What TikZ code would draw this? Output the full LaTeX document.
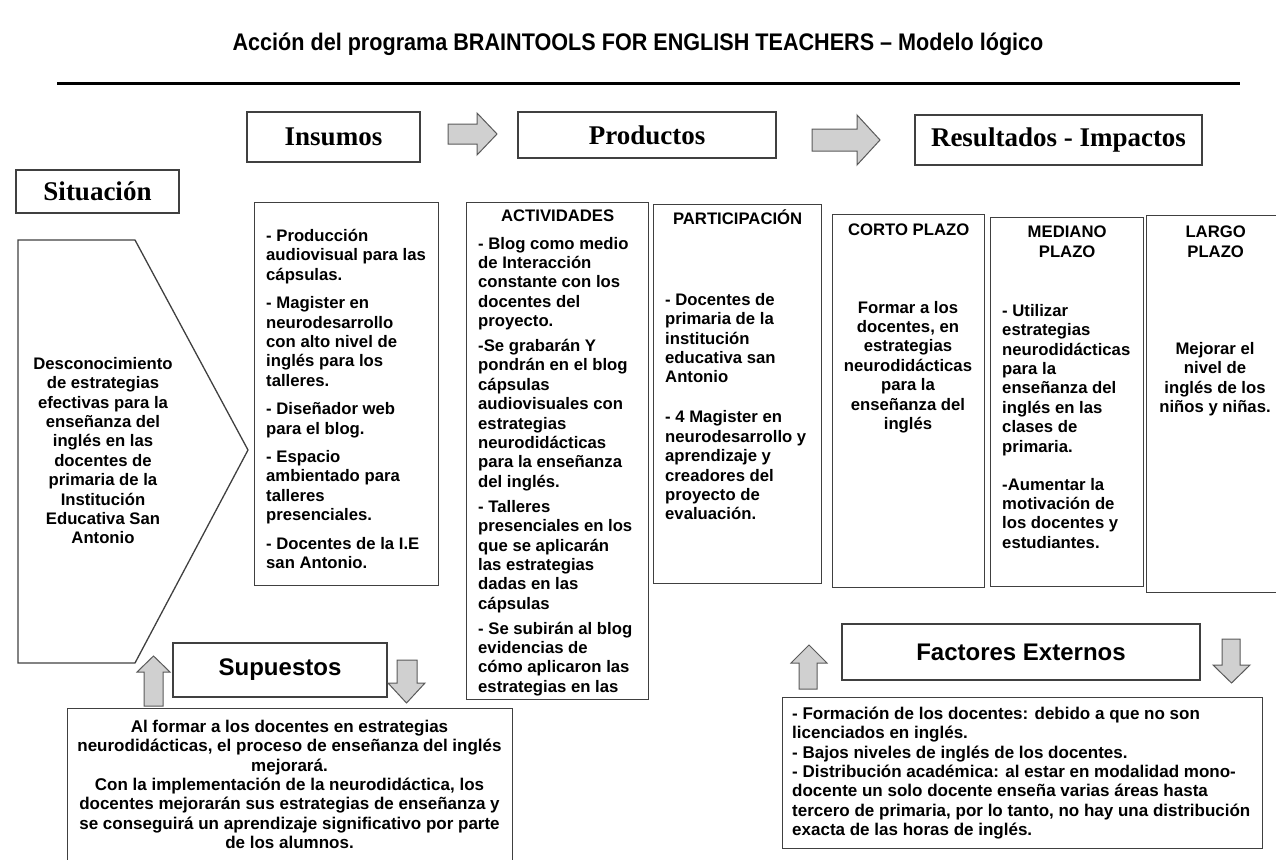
\documentclass[tikz,border=0pt]{standalone}
\usepackage{fontspec}
\setmainfont{Liberation Sans}
\newfontfamily\headserif{Liberation Serif}
\newfontfamily\titlefont[FakeStretch=0.9]{Liberation Sans}
\usetikzlibrary{positioning}
\definecolor{boxline}{RGB}{64,64,64}
\definecolor{arrowline}{RGB}{90,90,90}
\definecolor{arrowfill}{RGB}{208,208,208}

\begin{document}
\begin{tikzpicture}[x=1pt,y=-1pt,
    titlebox/.style={rectangle,draw=boxline,line width=1.3pt,inner sep=0pt,
      font=\headserif\fontsize{27}{30}\selectfont\bfseries},
    colbox/.style={rectangle,draw=boxline,line width=1.3pt,inner sep=0pt,anchor=north west},
    coltext/.style={inner sep=0pt,align=left,anchor=north west,
      font=\fontsize{16.7}{19.4}\selectfont\bfseries},
    colhead/.style={inner sep=0pt,align=center,
      font=\fontsize{16.7}{19.4}\selectfont\bfseries},
    sidehead/.style={rectangle,draw=boxline,line width=1.3pt,inner sep=0pt,
      font=\fontsize{24}{28}\selectfont\bfseries},
    notetext/.style={inner sep=0pt,font=\fontsize{17}{19.3}\selectfont\bfseries},
    blockarrow/.style={draw=arrowline,fill=arrowfill,line width=1pt,line join=miter}
  ]
    \useasboundingbox (0,0) rectangle (1276,859);

    % title and rule
    \node[font=\titlefont\fontsize{24}{28}\selectfont\bfseries] (title) at (638,44)
      {Acción del programa BRAINTOOLS FOR ENGLISH TEACHERS – Modelo lógico};
    \draw[line width=3pt] (57,83) -- (1240,83);

    % top headers
    \node[titlebox,minimum width=173,minimum height=50] (insumos) at (333.5,137) {Insumos};
    \node[titlebox,minimum width=258,minimum height=46] (productos) at (647,135) {Productos};
    \node[titlebox,minimum width=287,minimum height=50] (resultados) at (1058.5,140) {Resultados - Impactos};
    \node[titlebox,minimum width=163,minimum height=43] (situacion) at (97.5,191.5) {Situación};
    \draw[blockarrow] (448,124) -- (477,124) -- (477,113) -- (497,134) -- (477,155) -- (477,144) -- (448,144) -- cycle;
    \draw[blockarrow] (812,129) -- (857,129) -- (857,115) -- (880,140) -- (857,165) -- (857,151) -- (812,151) -- cycle;

    % situation
    \draw[boxline,line width=1.3pt] (18,240) -- (135,240) -- (248,450) -- (135,663) -- (18,663) -- cycle;
    \node[colhead,anchor=north] (situaciontext) at (103,357)
      {Desconocimiento\\de estrategias\\efectivas para la\\enseñanza del\\inglés en las\\docentes de\\primaria de la\\Institución\\Educativa San\\Antonio};

    % insumos
    \node[colbox,minimum width=184,minimum height=383] (insumosbox) at (254,202) {};
    \node[coltext] (insumostext) at (266,229)
      {- Producción\\audiovisual para las\\cápsulas.\\[9pt]
       - Magister en\\neurodesarrollo\\con alto nivel de\\inglés para los\\talleres.\\[9pt]
       - Diseñador web\\para el blog.\\[9pt]
       - Espacio\\ambientado para\\talleres\\presenciales.\\[9pt]
       - Docentes de la I.E\\san Antonio.};

    % actividades
    \begin{scope}
      \clip (466,202) rectangle (648,699);
      \node[coltext] (actividadestext) at (478,236.7)
        {- Blog como medio\\de Interacción\\constante con los\\docentes del\\proyecto.\\[5.5pt]
         -Se grabarán Y\\pondrán en el blog\\cápsulas\\audiovisuales con\\estrategias\\neurodidácticas\\para la enseñanza\\del inglés.\\[5.5pt]
         - Talleres\\presenciales en los\\que se aplicarán\\las estrategias\\dadas en las\\cápsulas\\[5.5pt]
         - Se subirán al blog\\evidencias de\\cómo aplicaron las\\estrategias en las};
    \end{scope}
    \node[colbox,minimum width=182,minimum height=497] (actividadesbox) at (466,202) {};
    \node[colhead,below=8pt of actividadesbox.north] (actividades) {ACTIVIDADES};

    % participacion
    \node[colbox,minimum width=168,minimum height=379] (participacionbox) at (653,204) {};
    \node[colhead,below=5.5pt of participacionbox.north] (participacion) {PARTICIPACIÓN};
    \node[coltext] (participaciontext) at (665,293)
      {- Docentes de\\primaria de la\\institución\\educativa san\\Antonio\\[20.6pt]
       - 4 Magister en\\neurodesarrollo y\\aprendizaje y\\creadores del\\proyecto de\\evaluación.};

    % plazos
    \node[colbox,minimum width=152,minimum height=373] (cortobox) at (832,214) {};
    \node[colhead,below=10pt of cortobox.north] (corto) {CORTO PLAZO};
    \node[colhead,anchor=north] (cortotext) at (908,300.7)
      {Formar a los\\docentes, en\\estrategias\\neurodidácticas\\para la\\enseñanza del\\inglés};

    \node[colbox,minimum width=153,minimum height=369] (medianobox) at (990,217) {};
    \node[colhead,below=9pt of medianobox.north] (mediano) {MEDIANO\\PLAZO};
    \node[coltext] (medianotext) at (1002,304)
      {- Utilizar\\estrategias\\neurodidácticas\\para la\\enseñanza del\\inglés en las\\clases de\\primaria.\\[18.6pt]
       -Aumentar la\\motivación de\\los docentes y\\estudiantes.};

    \node[colbox,minimum width=138,minimum height=377] (largobox) at (1146,215) {};
    \node[colhead,below=11pt of largobox.north] (largo) {LARGO\\PLAZO};
    \node[colhead,anchor=north] (largotext) at (1215,342)
      {Mejorar el\\nivel de\\inglés de los\\niños y niñas.};

    % supuestos
    \node[sidehead,minimum width=214,minimum height=54] (supuestos) at (280,670) {Supuestos};
    \draw[blockarrow] (144,706) -- (144,672) -- (137,672) -- (153.5,656) -- (170,672) -- (163,672) -- (163,706) -- cycle;
    \draw[blockarrow] (397,660) -- (417,660) -- (417,683) -- (425,683) -- (406.5,703) -- (388,683) -- (397,683) -- cycle;
    \node[colbox,minimum width=445,minimum height=172] (supuestosbox) at (67,708) {};
    \node[notetext,align=center,anchor=north] (supuestostext) at (289.5,720)
      {Al formar a los docentes en estrategias\\neurodidácticas, el proceso de enseñanza del inglés\\mejorará.\\
       Con la implementación de la neurodidáctica, los\\docentes mejorarán sus estrategias de enseñanza y\\se conseguirá un aprendizaje significativo por parte\\de los alumnos.};

    % factores externos
    \node[sidehead,minimum width=358,minimum height=56] (factores) at (1021,652) {Factores Externos};
    \draw[blockarrow] (799,689) -- (799,663) -- (791,663) -- (809,645) -- (827,663) -- (817,663) -- (817,689) -- cycle;
    \draw[blockarrow] (1222,639) -- (1240,639) -- (1240,665) -- (1250,665) -- (1231.5,683) -- (1213,665) -- (1222,665) -- cycle;
    \node[colbox,minimum width=480,minimum height=151] (factoresbox) at (782,697) {};
    \node[notetext,align=left,anchor=north west] (factorestext) at (792,707)
      {- Formación de los docentes: debido a que no son\\licenciados en inglés.\\- Bajos niveles de inglés de los docentes.\\
       - Distribución académica: al estar en modalidad mono-\\docente un solo docente enseña varias áreas hasta\\tercero de primaria, por lo tanto, no hay una distribución\\exacta de las horas de inglés.};
  \end{tikzpicture}
\end{document}
